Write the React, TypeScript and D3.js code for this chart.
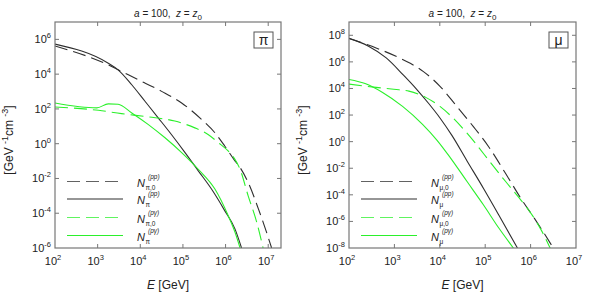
import React, { useEffect, useRef } from 'react';
import * as d3 from 'd3';

// curves as [log10 E, log10 N] pairs
const piN0pp: [number, number][] = [[2, 5.62], [3.25, 4.53], [3.48, 4.25], [3.95, 3.68], [4.5, 3.01], [4.97, 2.34], [5.44, 1.39], [5.75, 0.63], [5.98, -0.13], [6.22, -0.99], [6.34, -1.37], [6.53, -2.23], [6.77, -3.75], [6.96, -5.09], [7.08, -6.0]];
const piNpp: [number, number][] = [[2, 5.73], [3.25, 4.63], [3.48, 4.25], [3.8, 3.39], [4.11, 2.44], [4.42, 1.49], [4.73, 0.53], [5.05, -0.51], [5.36, -1.56], [5.67, -2.61], [5.98, -3.85], [6.22, -4.9], [6.375, -6.0]];
const piN0pg: [number, number][] = [[2, 2.11], [3.02, 1.92], [3.56, 1.73], [4.19, 1.54], [4.81, 1.3], [5.28, 0.91], [5.59, 0.53], [5.83, 0.06], [6.06, -0.42], [6.22, -0.9], [6.34, -1.47], [6.53, -3.0], [6.73, -4.51], [6.88, -6.0]];
const piNpg: [number, number][] = [[2, 2.34], [2.98, 2.06], [3.25, 2.29], [3.48, 2.27], [3.8, 1.77], [4.19, 1.1], [4.58, 0.34], [4.97, -0.51], [5.36, -1.47], [5.75, -2.61], [6.06, -4.13], [6.22, -5.09], [6.34, -6.0]];

const muN0pp: [number, number][] = [[2, 7.76], [2.61, 7.03], [3.13, 6.27], [3.35, 5.89], [3.64, 5.27], [4.01, 4.14], [4.38, 2.63], [4.74, 1.13], [5.08, -0.4], [5.45, -2.4], [5.82, -4.45], [6.07, -5.7], [6.28, -6.8], [6.5, -8.0]];
const muNpp: [number, number][] = [[2, 7.77], [2.42, 7.2], [2.82, 6.3], [3.2, 5.0], [3.5, 3.9], [3.76, 2.85], [4.0, 1.8], [4.27, 0.45], [4.6, -1.45], [4.96, -3.5], [5.33, -5.7], [5.71, -8.0]];
const muN0pg: [number, number][] = [[2, 4.33], [2.6, 4.08], [3.1, 3.9], [3.32, 3.8], [3.69, 3.33], [4.01, 2.63], [4.3, 1.75], [4.57, 0.75], [4.78, -0.1], [5.1, -1.5], [5.45, -3.0], [5.8, -4.45], [6.05, -5.6], [6.25, -6.75], [6.43, -8.0]];
const muNpg: [number, number][] = [[2, 4.68], [2.37, 4.35], [2.74, 3.7], [3.18, 2.65], [3.62, 1.3], [3.94, 0.1], [4.23, -1.2], [4.6, -3.0], [4.96, -4.75], [5.3, -6.5], [5.62, -8.0]];

const xTickExps = [2, 3, 4, 5, 6, 7];
const piYTickExps = [-6, -4, -2, 0, 2, 4, 6];
const muYTickExps = [-8, -6, -4, -2, 0, 2, 4, 6, 8];

const BLACK = '#2e2e2e';
const GREEN = '#2bf02b';
const FONT = '"Liberation Sans", Arial, sans-serif';

interface PanelDef {
  x0: number; x1: number;
  xMax: number;
  yMin: number; yMax: number;
  yTicks: number[];
  particle: string;
  curves: { pts: [number, number][]; color: string; dashed: boolean; sub: string; sup: string }[];
}

const panels: PanelDef[] = [
  {
    x0: 55, x1: 281, xMax: 7.3, yMin: -6, yMax: 7, yTicks: piYTickExps, particle: 'π',
    curves: [
      { pts: piN0pp, color: BLACK, dashed: true, sub: 'π,0', sup: '(pp)' },
      { pts: piNpp, color: BLACK, dashed: false, sub: 'π', sup: '(pp)' },
      { pts: piN0pg, color: GREEN, dashed: true, sub: 'π,0', sup: '(pγ)' },
      { pts: piNpg, color: GREEN, dashed: false, sub: 'π', sup: '(pγ)' },
    ],
  },
  {
    x0: 349, x1: 576, xMax: 7, yMin: -8, yMax: 9, yTicks: muYTickExps, particle: 'μ',
    curves: [
      { pts: muN0pp, color: BLACK, dashed: true, sub: 'μ,0', sup: '(pp)' },
      { pts: muNpp, color: BLACK, dashed: false, sub: 'μ', sup: '(pp)' },
      { pts: muN0pg, color: GREEN, dashed: true, sub: 'μ,0', sup: '(pγ)' },
      { pts: muNpg, color: GREEN, dashed: false, sub: 'μ', sup: '(pγ)' },
    ],
  },
];

const Y0 = 22;
const Y1 = 248;

const App: React.FC = () => {
  const svgRef = useRef<SVGSVGElement>(null);

  useEffect(() => {
    if (!svgRef.current) return;
    const svg = d3.select(svgRef.current);
    svg.selectAll('*').remove();

    panels.forEach(p => {
      const g = svg.append('g');
      const xScale = d3.scaleLog().domain([1e2, Math.pow(10, p.xMax)]).range([p.x0, p.x1]);
      const yScale = d3.scaleLog().domain([Math.pow(10, p.yMin), Math.pow(10, p.yMax)]).range([Y1, Y0]);
      const cx = (p.x0 + p.x1) / 2;

      const clipId = `clip-${p.x0}`;
      svg.append('clipPath').attr('id', clipId)
        .append('rect').attr('x', p.x0).attr('y', Y0).attr('width', p.x1 - p.x0).attr('height', Y1 - Y0);

      // curves
      const line = d3.line<[number, number]>()
        .x(d => xScale(Math.pow(10, d[0])))
        .y(d => yScale(Math.pow(10, d[1])))
        .curve(d3.curveMonotoneX);
      p.curves.forEach(c => {
        g.append('path')
          .attr('d', line(c.pts))
          .attr('fill', 'none')
          .attr('stroke', c.color)
          .attr('stroke-width', 1.1)
          .attr('stroke-dasharray', c.dashed ? '13,6' : null)
          .attr('clip-path', `url(#${clipId})`);
      });

      // frame
      g.append('rect')
        .attr('x', p.x0).attr('y', Y0)
        .attr('width', p.x1 - p.x0).attr('height', Y1 - Y0)
        .attr('fill', 'none').attr('stroke', '#777').attr('stroke-width', 1.2);

      // x ticks
      xTickExps.forEach(e => {
        const x = xScale(Math.pow(10, e));
        if (x > p.x0 + 1 && x < p.x1 - 1) {
          g.append('line').attr('x1', x).attr('x2', x).attr('y1', Y1).attr('y2', Y1 - 4).attr('stroke', '#777');
          g.append('line').attr('x1', x).attr('x2', x).attr('y1', Y0).attr('y2', Y0 + 4).attr('stroke', '#777');
        }
        const t = g.append('text').attr('x', x - 2).attr('y', 265)
          .attr('text-anchor', 'middle').attr('font-family', FONT).attr('font-size', 11).attr('fill', '#222');
        t.append('tspan').text('10');
        t.append('tspan').attr('dy', -5).attr('font-size', 7.5).text(String(e));
      });

      // y ticks
      p.yTicks.forEach(e => {
        const y = yScale(Math.pow(10, e));
        if (y > Y0 + 1 && y < Y1 - 1) {
          g.append('line').attr('x1', p.x0).attr('x2', p.x0 + 4).attr('y1', y).attr('y2', y).attr('stroke', '#777');
          g.append('line').attr('x1', p.x1).attr('x2', p.x1 - 4).attr('y1', y).attr('y2', y).attr('stroke', '#777');
        }
        const t = g.append('text').attr('x', p.x0 - 4).attr('y', y + 4)
          .attr('text-anchor', 'end').attr('font-family', FONT).attr('font-size', 11).attr('fill', '#222');
        t.append('tspan').text('10');
        t.append('tspan').attr('dy', -5).attr('font-size', 7.5).text(e < 0 ? `-${-e}` : String(e));
      });

      // title
      const title = g.append('text').attr('x', cx).attr('y', 17).attr('text-anchor', 'middle')
        .attr('font-family', FONT).attr('font-size', 10).attr('fill', '#222')
        .style('white-space', 'pre');
      title.append('tspan').attr('font-style', 'italic').text('a');
      title.append('tspan').text(' = 100,  ');
      title.append('tspan').attr('font-style', 'italic').text('z');
      title.append('tspan').text(' = ');
      title.append('tspan').attr('font-style', 'italic').text('z');
      title.append('tspan').attr('dy', 3).attr('font-size', 8).text('0');

      // x label
      const xl = g.append('text').attr('x', cx).attr('y', 289).attr('text-anchor', 'middle')
        .attr('font-family', FONT).attr('font-size', 12).attr('fill', '#222');
      xl.append('tspan').attr('font-style', 'italic').text('E');
      xl.append('tspan').text(' [GeV]');

      // y label
      const ylx = p.x0 - 42;
      const yl = g.append('text').attr('transform', `translate(${ylx},${(Y0 + Y1) / 2 + 5}) rotate(-90)`)
        .attr('text-anchor', 'middle').attr('font-family', FONT).attr('font-size', 12).attr('fill', '#222')
        .style('white-space', 'pre');
      yl.append('tspan').text('[GeV ');
      yl.append('tspan').attr('dy', -5).attr('font-size', 9).text('-1');
      yl.append('tspan').attr('dy', 5).text('cm ');
      yl.append('tspan').attr('dy', -5).attr('font-size', 9).text('-3');
      yl.append('tspan').attr('dy', 5).text(']');

      // particle box
      g.append('rect').attr('x', p.x1 - 27).attr('y', 32).attr('width', 19).attr('height', 16)
        .attr('fill', '#fff').attr('stroke', '#555').attr('stroke-width', 1);
      g.append('text').attr('x', p.x1 - 17.5).attr('y', 45).attr('text-anchor', 'middle')
        .attr('font-family', FONT).attr('font-size', 14).attr('fill', '#222').text(p.particle);

      // legend
      const legY = [181.5, 199, 217.5, 235.5];
      p.curves.forEach((c, i) => {
        const ly = legY[i];
        g.append('line').attr('x1', p.x0 + 12).attr('x2', p.x0 + 68).attr('y1', ly).attr('y2', ly)
          .attr('stroke', c.color).attr('stroke-width', 1.1)
          .attr('stroke-opacity', c.dashed ? 0.75 : 1)
          .attr('stroke-dasharray', c.dashed ? '13,6' : null);
        const lx = p.x0 + 82;
        g.append('text').attr('x', lx).attr('y', ly + 5).attr('font-family', FONT)
          .attr('font-size', 11).attr('font-style', 'italic').attr('fill', '#222').text('N');
        g.append('text').attr('x', lx + 8.5).attr('y', ly + 8).attr('font-family', FONT)
          .attr('font-size', 6.5).attr('fill', '#222').text(c.sub);
        g.append('text').attr('x', lx + 11).attr('y', ly - 3).attr('font-family', FONT)
          .attr('font-size', 6.5).attr('font-style', 'italic').attr('fill', '#222').text(c.sup);
      });
    });
  }, []);

  return (
    <svg ref={svgRef} width={598} height={294}
      style={{ position: 'absolute', left: 0, top: 0, background: '#fff' }} />
  );
};

export default App;
